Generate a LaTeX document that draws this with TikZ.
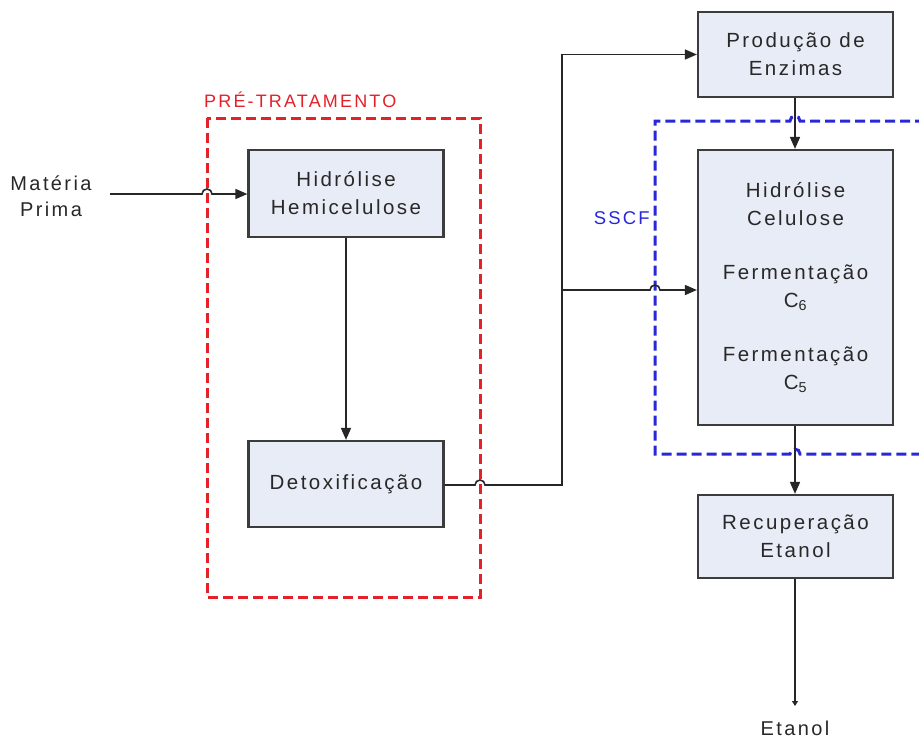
\documentclass[tikz,border=0pt]{standalone}
\usepackage{fontspec}
\setmainfont{Liberation Sans}
\newfontfamily\spaced[LetterSpace=12]{Liberation Sans}
\usetikzlibrary{arrows.meta}
\definecolor{boxfill}{RGB}{232,236,246}
\definecolor{boxline}{RGB}{60,60,60}
\definecolor{inktext}{RGB}{40,40,40}
\definecolor{pretred}{RGB}{228,32,40}
\definecolor{sscfblue}{RGB}{40,40,215}
\tikzset{
  procbox/.style={draw=boxline, fill=boxfill, line width=2.2pt, minimum width=195pt,
    align=center, font=\fontsize{20.5}{28}\spaced, text=inktext, inner sep=0pt},
  flow/.style={line width=1.6pt, draw=black!85},
  arrowflow/.style={flow, -{Triangle[length=12pt,width=10pt]}},
  groupline/.style={line width=3pt, dash pattern=on 10pt off 5pt},
  lbl/.style={font=\fontsize{20}{26}\spaced, text=inktext, align=center, inner sep=0pt}
}
\begin{document}
\begin{tikzpicture}[x=1pt,y=-1pt]
\useasboundingbox (0,0) rectangle (919,742);
\clip (0,0) rectangle (919,742);

% groups
\draw[groupline, draw=pretred] (207,118) rectangle (480,597);
\node[font=\fontsize{18}{20}\spaced, text=pretred, anchor=west, inner sep=0pt] (pretlabel) at (204,100) {PRÉ-TRATAMENTO};
\draw[groupline, draw=sscfblue] (925,121) -- (800,121) arc[start angle=0, end angle=180, radius=5pt]
  -- (655,121) -- (655,454) -- (790,454) arc[start angle=180, end angle=0, radius=5pt] -- (925,454);
\node[font=\fontsize{18.5}{20}\spaced, text=sscfblue, anchor=east, inner sep=0pt] (sscflabel) at (650,218) {SSCF};

% process blocks
\node[procbox, minimum height=87pt] (hemi) at (346,193.5) {Hidrólise\\Hemicelulose};
\node[procbox, minimum height=86pt] (detox) at (346,484) {Detoxificação};
\node[procbox, minimum height=85pt] (enz) at (795.5,54.5) {Produção de\\Enzimas};
\node[procbox, minimum height=275pt] (ssf) at (795.5,287.5)
  {Hidrólise\\Celulose\\[26pt]Fermentação\\C\textsubscript{6}\\[26pt]Fermentação\\C\textsubscript{5}};
\node[procbox, minimum height=83pt] (rec) at (795.5,536.5) {Recuperação\\Etanol};

% inputs and outputs
\node[lbl] (feed) at (51,196) {Matéria\\Prima};
\node[lbl] (etoh) at (795,728) {Etanol};
\coordinate (feedend) at (110,194);
\coordinate (etohtip) at (795,706);
\coordinate (split) at (562,485);
\coordinate (branch) at (562,290);

% connectors
\draw[arrowflow] (feedend) -- (202,194) arc[start angle=180, end angle=0, radius=5pt] -- (hemi.west |- feedend);
\draw[arrowflow] (hemi) -- (detox);
\draw[flow] (detox.east |- split) -- (475,485) arc[start angle=180, end angle=0, radius=5pt] -- (split) -- (branch);
\draw[arrowflow] (branch) |- (enz.west);
\draw[arrowflow] (branch) -- (650,290) arc[start angle=180, end angle=0, radius=5pt] -- (ssf.west |- branch);
\draw[arrowflow] (enz.south -| etohtip) -- (ssf.north -| etohtip);
\draw[arrowflow] (ssf.south -| etohtip) -- (rec.north -| etohtip);
\draw[flow, -{Triangle[length=5pt,width=6pt]}] (rec.south -| etohtip) -- (etohtip);
\end{tikzpicture}
\end{document}
